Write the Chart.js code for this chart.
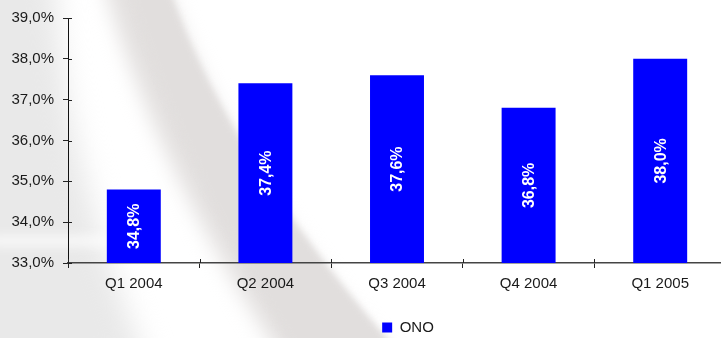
<!DOCTYPE html>
<html>
<head>
<meta charset="utf-8">
<script src="https://cdn.jsdelivr.net/npm/chart.js@4/dist/chart.umd.min.js"></script>
<style>
  html, body { margin: 0; padding: 0; overflow: hidden; background: #fff; }
  #wrap { width: 726px; height: 338px; position: relative; }
</style>
</head>
<body>
<div id="wrap"><canvas id="c"></canvas></div>
<script>
// Quarterly values (%) for ONO
const categories = ['Q1 2004', 'Q2 2004', 'Q3 2004', 'Q4 2004', 'Q1 2005'];
const onoValues = [34.8, 37.4, 37.6, 36.8, 38.0];
const seriesName = 'ONO';
const yMin = 33, yMax = 39, yStep = 1;

const pct = v => v.toFixed(1).replace('.', ',') + '%';
const FONT = 'Liberation Sans, Arial, sans-serif';
const TEXT = '#1a1a1a';

// Soft grey sweep behind the chart
const backdrop = {
  id: 'backdrop',
  beforeDraw(chart) {
    const { ctx, width, height } = chart;
    ctx.save();
    ctx.fillStyle = '#ffffff';
    ctx.fillRect(0, 0, width, height);

    // pale left panel
    ctx.filter = 'blur(14px)';
    ctx.fillStyle = '#e9e9e9';
    ctx.beginPath();
    ctx.moveTo(-30, -30);
    ctx.lineTo(55, -30);
    ctx.bezierCurveTo(60, 100, 90, 220, 150, 370);
    ctx.lineTo(-30, 370);
    ctx.closePath();
    ctx.fill();

    // white streak across the lower left
    ctx.filter = 'blur(6px)';
    ctx.fillStyle = 'rgba(255,255,255,0.8)';
    ctx.fillRect(-10, 236, 120, 10);

    // soft left edge of the diagonal band
    ctx.filter = 'blur(10px)';
    ctx.fillStyle = '#e3e0df';
    ctx.beginPath();
    ctx.moveTo(100, -30);
    ctx.lineTo(160, -30);
    ctx.bezierCurveTo(200, 100, 280, 230, 400, 370);
    ctx.lineTo(290, 370);
    ctx.bezierCurveTo(210, 250, 140, 120, 100, -30);
    ctx.closePath();
    ctx.fill();

    // crisper right edge of the band
    ctx.filter = 'blur(3px)';
    ctx.fillStyle = '#e1dedd';
    ctx.beginPath();
    ctx.moveTo(125, -30);
    ctx.lineTo(163, -30);
    ctx.bezierCurveTo(200, 90, 280, 220, 415, 370);
    ctx.lineTo(310, 370);
    ctx.bezierCurveTo(230, 250, 160, 110, 125, -30);
    ctx.closePath();
    ctx.fill();
    ctx.restore();
  }
};

// Tick marks that cross the axis lines, legend offset and bar value labels
const decorations = {
  id: 'decorations',
  afterLayout(chart) {
    const lg = chart.legend;
    if (lg) {
      lg.left += 45; lg.right += 45;
      lg.top += 9; lg.bottom += 9;
    }
  },
  afterDraw(chart) {
    const { ctx, chartArea } = chart;
    const xs = chart.scales.x, ys = chart.scales.y;
    ctx.save();
    ctx.strokeStyle = '#222';
    ctx.lineWidth = 1;
    ctx.beginPath();
    ys.ticks.forEach((t, i) => {
      const y = Math.round(ys.getPixelForTick(i)) + 0.5;
      ctx.moveTo(chartArea.left, y);
      ctx.lineTo(chartArea.left + 4, y);
    });
    const n = categories.length;
    const w = (xs.right - xs.left) / n;
    for (let i = 0; i <= n; i++) {
      const x = Math.round(xs.left + i * w) + 0.5;
      ctx.moveTo(x, chartArea.bottom - 4);
      ctx.lineTo(x, chartArea.bottom);
    }
    ctx.stroke();

    // vertical value labels centred in the visible part of each bar
    const floor = ys.getPixelForValue(yMin);
    const meta = chart.getDatasetMeta(0);
    ctx.fillStyle = '#ffffff';
    ctx.font = 'bold 16px ' + FONT;
    ctx.textAlign = 'center';
    ctx.textBaseline = 'middle';
    meta.data.forEach((bar, i) => {
      const cy = (bar.y + Math.min(bar.base, floor)) / 2;
      ctx.save();
      ctx.translate(bar.x, cy);
      ctx.rotate(-Math.PI / 2);
      ctx.fillText(pct(onoValues[i]), 0, 1);
      ctx.restore();
    });
    ctx.restore();
  }
};

new Chart(document.getElementById('c'), {
  type: 'bar',
  data: {
    labels: categories,
    datasets: [{
      label: seriesName,
      data: onoValues,
      backgroundColor: '#0000ff',
      borderWidth: 0,
      barPercentage: 0.41,
      categoryPercentage: 1.0
    }]
  },
  options: {
    responsive: true,
    maintainAspectRatio: false,
    animation: false,
    layout: { padding: { top: 16, right: 0, bottom: 2, left: 0 } },
    plugins: {
      tooltip: { enabled: false },
      legend: {
        position: 'bottom',
        labels: {
          boxWidth: 10,
          boxHeight: 10,
          padding: 8,
          color: TEXT,
          font: { family: FONT, size: 15 }
        }
      }
    },
    scales: {
      x: {
        grid: {
          offset: true,
          drawOnChartArea: false,
          drawTicks: true,
          tickLength: 5,
          color: '#222'
        },
        border: { display: true, color: '#444', width: 1.5 },
        ticks: {
          color: TEXT,
          padding: 7,
          font: { family: FONT, size: 15 },
          maxRotation: 0
        },
        afterFit(scale) { scale.height = 40; }
      },
      y: {
        min: yMin,
        max: yMax,
        grid: {
          drawOnChartArea: false,
          drawTicks: true,
          tickLength: 5,
          color: '#222'
        },
        border: { display: true, color: '#111', width: 1 },
        ticks: {
          stepSize: yStep,
          color: TEXT,
          padding: 9,
          font: { family: FONT, size: 15 },
          callback: v => pct(v)
        },
        afterFit(scale) { scale.width = 68; }
      }
    }
  },
  plugins: [backdrop, decorations]
});
</script>
</body>
</html>
